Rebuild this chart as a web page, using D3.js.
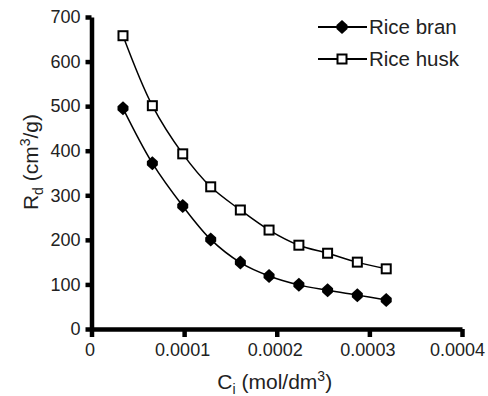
<!DOCTYPE html>
<html>
<head>
<meta charset="utf-8">
<style>
body { margin: 0; background: #fff; }
text { font-family: "Liberation Sans", Arial, sans-serif; fill: #222; }
.axis path, .axis line { stroke: #000; stroke-width: 4.5px; }
.series { fill: none; stroke: #000; stroke-width: 1.5px; }
</style>
</head>
<body>
<svg id="chart"></svg>
<script src="https://cdn.jsdelivr.net/npm/d3@7"></script>
<script>

// concentration values (mol/dm3)
var conc = [0.0000340, 0.0000657, 0.0000985, 0.0001287, 0.0001607,
            0.0001917, 0.0002239, 0.0002549, 0.0002870, 0.0003182];

// distribution ratio Rd (cm3/g)
var riceBran = [495, 372, 276, 201, 149, 119, 99, 87, 76, 65];
var riceHusk = [658, 501, 393, 319, 267, 222, 188, 170, 150, 135];

var xTicks = [0, 0.0001, 0.0002, 0.0003, 0.0004];
var yTicks = [0, 100, 200, 300, 400, 500, 600, 700];
var seriesNames = ["Rice bran", "Rice husk"];

var width = 488, height = 396;
var margin = {top: 17, right: 26, bottom: 67, left: 91.5};

var svg = d3.select("#chart")
    .attr("width", width)
    .attr("height", height);

// scales
var x = d3.scaleLinear()
    .domain([0, 0.0004])
    .range([margin.left, width - margin.right]);

var y = d3.scaleLinear()
    .domain([0, 700])
    .range([height - margin.bottom, margin.top]);

// axes
var xAxis = svg.append("g")
    .attr("class", "axis")
    .attr("transform", "translate(0," + y(0) + ")")
    .call(d3.axisBottom(x)
        .tickValues(xTicks)
        .tickSize(8)
        .tickPadding(6)
        .tickSizeOuter(0)
        .tickFormat(function(d) { return d === 0 ? "0" : d3.format(".4f")(d); }));

// labels sit a little left of their ticks, the last one more so
xAxis.selectAll(".tick text")
    .attr("dx", function(d, i) { return i === xTicks.length - 1 ? -5 : -2; });

var yAxis = svg.append("g")
    .attr("class", "axis")
    .attr("transform", "translate(" + x(0) + ",0)")
    .call(d3.axisLeft(y)
        .tickValues(yTicks)
        .tickSize(6)
        .tickPadding(5)
        .tickSizeOuter(0));

svg.selectAll(".axis text")
    .style("font-size", "18px")
    .style("fill", "#222");

// axis titles
var xTitle = svg.append("text")
    .attr("x", (x(0) + x(0.0004)) / 2 - 2)
    .attr("y", 389)
    .attr("text-anchor", "middle")
    .style("font-size", "21px");
xTitle.append("tspan").text("C");
xTitle.append("tspan").attr("dy", 5).style("font-size", "14px").text("i");
xTitle.append("tspan").attr("dy", -5).text(" (mol/dm");
xTitle.append("tspan").attr("dy", -8).style("font-size", "14px").text("3");
xTitle.append("tspan").attr("dy", 8).text(")");

var yTitle = svg.append("text")
    .attr("transform", "translate(38,162) rotate(-90)")
    .attr("text-anchor", "middle")
    .style("font-size", "21px");
yTitle.append("tspan").text("R");
yTitle.append("tspan").attr("dy", 5).style("font-size", "14px").text("d");
yTitle.append("tspan").attr("dy", -5).text(" (cm");
yTitle.append("tspan").attr("dy", -8).style("font-size", "14px").text("3");
yTitle.append("tspan").attr("dy", 8).text("/g)");

// lines
var line = d3.line()
    .x(function(d, i) { return x(conc[i]); })
    .y(function(d) { return y(d); })
    .curve(d3.curveCatmullRom);

svg.append("path").datum(riceBran).attr("class", "series").attr("d", line);
svg.append("path").datum(riceHusk).attr("class", "series").attr("d", line);

// markers
function drawBran(sel) {
  sel.append("path")
    .attr("d", "M0,-7 L5.5,-2 L5.5,2 L0,7 L-5.5,2 L-5.5,-2 Z")
    .style("fill", "#000");
}
function drawHusk(sel) {
  sel.append("rect")
    .attr("x", -4.5).attr("y", -4.5)
    .attr("width", 9).attr("height", 9)
    .style("fill", "#fff")
    .style("stroke", "#000")
    .style("stroke-width", "2px");
}

svg.selectAll(".bran")
    .data(riceBran)
  .enter().append("g")
    .attr("class", "bran")
    .attr("transform", function(d, i) { return "translate(" + x(conc[i]) + "," + y(d) + ")"; })
    .call(drawBran);

svg.selectAll(".husk")
    .data(riceHusk)
  .enter().append("g")
    .attr("class", "husk")
    .attr("transform", function(d, i) { return "translate(" + x(conc[i]) + "," + y(d) + ")"; })
    .call(drawHusk);

// legend
var legend = svg.selectAll(".legend")
    .data(seriesNames)
  .enter().append("g")
    .attr("class", "legend")
    .attr("transform", function(d, i) { return "translate(318," + (27 + i * 32) + ")"; });

legend.append("line")
    .attr("x1", 0).attr("x2", 49)
    .style("stroke", "#000")
    .style("stroke-width", "2px");

legend.each(function(d, i) {
  var g = d3.select(this).append("g").attr("transform", "translate(24,0)");
  if (i === 0) drawBran(g); else drawHusk(g);
});

legend.append("text")
    .attr("x", 51)
    .attr("dy", "0.35em")
    .style("font-size", "20.5px")
    .text(function(d) { return d; });

</script>
</body>
</html>
